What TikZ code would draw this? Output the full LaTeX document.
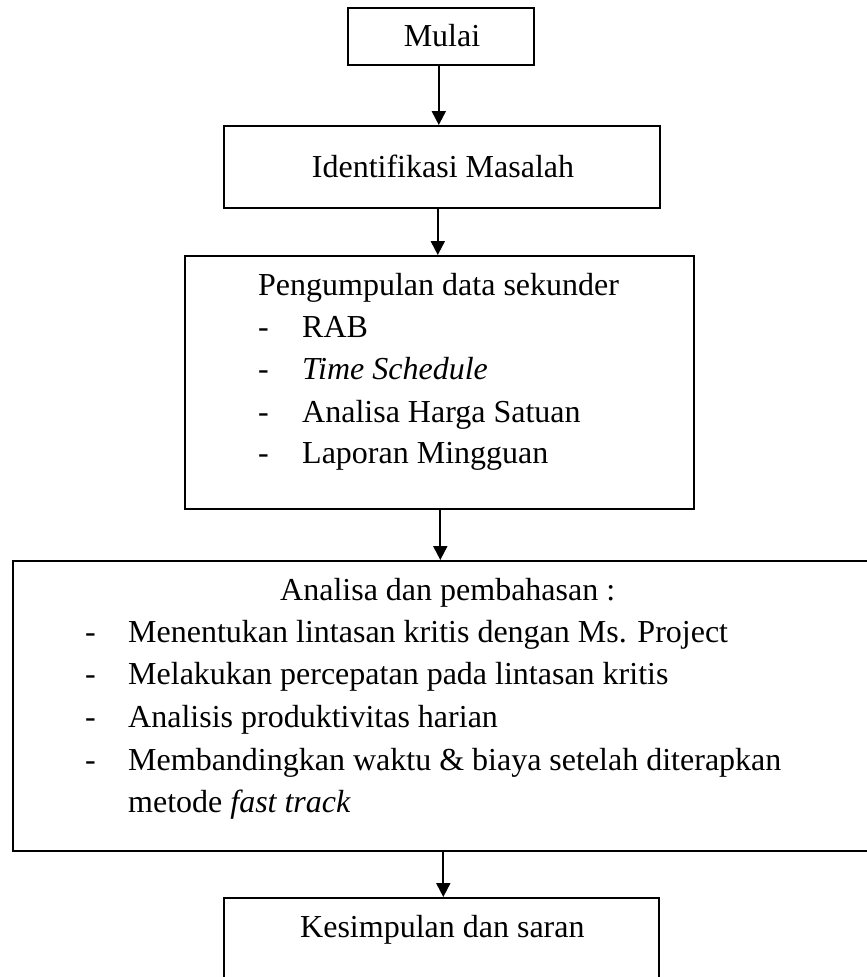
\documentclass[tikz,border=0pt]{standalone}
\usepackage{fontspec}
\setmainfont{Liberation Serif}
\usetikzlibrary{arrows.meta}
\begin{document}
\begin{tikzpicture}[x=1pt,y=-1pt,
  box/.style={draw, line width=1.6pt, inner sep=0pt, anchor=north west},
  arr/.style={-{Triangle[length=14pt,width=14pt]}, line width=2pt},
  txt/.style={anchor=base west, inner sep=0pt, font=\fontsize{32}{42}\selectfont},
  ctxt/.style={txt, anchor=base}]
\useasboundingbox (0,0) rectangle (867,977);
% boxes
\node[box, minimum width=186pt, minimum height=57pt] (b1) at (347,7) {};
\node[box, minimum width=436pt, minimum height=82pt] (b2) at (223,125) {};
\node[box, minimum width=509pt, minimum height=253pt] (b3) at (184,255) {};
\node[box, minimum width=880pt, minimum height=290pt] (b4) at (12,560) {};
\node[box, minimum width=435pt, minimum height=110pt] (b5) at (223,897) {};
% texts
\node[ctxt] (t1) at (442,46) {Mulai};
\node[ctxt] (t2) at (443,177) {Identifikasi Masalah};
\node[txt] (t3) at (258,295) {Pengumpulan data sekunder};
\node[txt] (d31) at (258,337) {-};
\node[txt] (t31) at (302,337) {RAB};
\node[txt] (d32) at (258,379) {-};
\node[txt] (t32) at (302,379) {\textit{Time Schedule}};
\node[txt] (d33) at (258,422) {-};
\node[txt] (t33) at (302,422) {Analisa Harga Satuan};
\node[txt] (d34) at (258,463) {-};
\node[txt] (t34) at (302,463) {Laporan Mingguan};
\node[txt] (t4) at (280,600) {Analisa dan pembahasan :};
\node[txt] (d41) at (85,642) {-};
\node[txt] (t41) at (128,642) {Menentukan lintasan kritis dengan Ms. Project};
\node[txt] (d42) at (85,684) {-};
\node[txt] (t42) at (128,684) {Melakukan percepatan pada lintasan kritis};
\node[txt] (d43) at (85,727) {-};
\node[txt] (t43) at (128,727) {Analisis produktivitas harian};
\node[txt] (d44) at (85,770) {-};
\node[txt] (t44) at (128,770) {Membandingkan waktu \& biaya setelah diterapkan};
\node[txt] (t45) at (128,812) {metode \textit{fast track}};
\node[txt] (t5) at (300,937) {Kesimpulan dan saran};
% arrows
\draw[arr] ([xshift=-2pt]b1.south) -- ([xshift=-2pt]b1.south |- b2.north);
\draw[arr] ([xshift=-4pt]b2.south) -- ([xshift=-4pt]b2.south |- b3.north);
\draw[arr] ([xshift=1pt]b3.south) -- ([xshift=1pt]b3.south |- b4.north);
\draw[arr] ([xshift=2pt]b5.north |- b4.south) -- ([xshift=2pt]b5.north);
\end{tikzpicture}
\end{document}
